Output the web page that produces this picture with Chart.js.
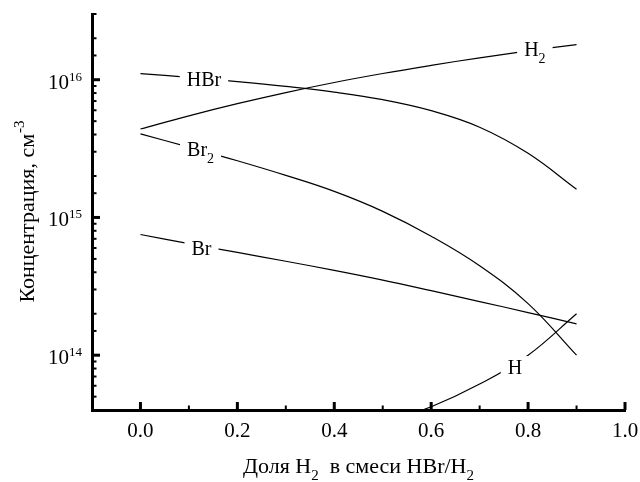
<!DOCTYPE html>
<html>
<head>
<meta charset="utf-8">
<script src="https://cdn.jsdelivr.net/npm/chart.js@4.4.0/dist/chart.umd.min.js"></script>
<style>
  html, body { margin: 0; padding: 0; background: #fff; }
  canvas { display: block; }
</style>
</head>
<body>
<canvas id="chart" width="640" height="482"></canvas>
<script>
// доля H2 в смеси HBr/H2
const xValues = [0, 0.1, 0.2, 0.3, 0.4, 0.5, 0.6, 0.7, 0.8, 0.9];

// концентрации, см^-3
const h2Values  = [4.39e15, 5.47e15, 6.70e15, 8.07e15, 9.55e15, 1.109e16, 1.27e16, 1.442e16, 1.618e16, 1.80e16];
const hbrValues = [1.107e16, 1.040e16, 9.70e15, 8.95e15, 8.13e15, 7.16e15, 5.96e15, 4.52e15, 2.92e15, 1.60e15];
const br2Values = [4.04e15, 3.24e15, 2.58e15, 2.02e15, 1.545e15, 1.107e15, 7.31e14, 4.46e14, 2.37e14, 1.00e14];
const brValues  = [7.52e14, 6.46e14, 5.57e14, 4.81e14, 4.13e14, 3.51e14, 2.94e14, 2.45e14, 2.04e14, 1.69e14];
const hValues   = [null, null, null, null, null, 3.2e13, 4.22e13, 6.17e13, 1.00e14, 2.00e14];

// подписи кривых: текст, индекс, место на графике (в единицах данных)
const curveLabels = [
  { text: 'HBr', sub: '',  x: 0.131, y: 1.02e16 },
  { text: 'Br',  sub: '2', x: 0.124, y: 3.16e15 },
  { text: 'Br',  sub: '',  x: 0.126, y: 6.04e14 },
  { text: 'H',   sub: '2', x: 0.814, y: 1.68e16 },
  { text: 'H',   sub: '',  x: 0.773, y: 8.2e13 }
];

const FONT = "'Liberation Serif', 'Times New Roman', serif";

function toPoints(values) {
  return xValues.map((x, i) => ({ x: x, y: values[i] }));
}

function lineSet(label, values) {
  return {
    label: label,
    data: toPoints(values),
    borderColor: '#000',
    borderWidth: 1.2,
    pointRadius: 0,
    tension: 0.4,
    fill: false
  };
}

function textWidth(ctx, main, small, mainSize, smallSize) {
  ctx.font = mainSize + 'px ' + FONT;
  let w = ctx.measureText(main).width;
  if (small) {
    ctx.font = smallSize + 'px ' + FONT;
    w += ctx.measureText(small).width;
  }
  return w;
}

const decor = {
  id: 'decor',
  afterDatasetsDraw(chart) {
    const ctx = chart.ctx;
    const xs = chart.scales.x, ys = chart.scales.y;
    ctx.save();
    ctx.textBaseline = 'alphabetic';
    ctx.textAlign = 'left';
    curveLabels.forEach(l => {
      const cx = xs.getPixelForValue(l.x);
      const cy = ys.getPixelForValue(l.y);
      const w = textWidth(ctx, l.text, l.sub, 20, 14);
      const left = cx - w / 2;
      ctx.fillStyle = '#fff';
      ctx.fillRect(left - 7, cy - 11, w + 14, 24);
      ctx.fillStyle = '#000';
      ctx.font = '20px ' + FONT;
      ctx.fillText(l.text, left, cy + 7);
      if (l.sub) {
        const mw = ctx.measureText(l.text).width;
        ctx.font = '14px ' + FONT;
        ctx.fillText(l.sub, left + mw, cy + 14);
      }
    });
    ctx.restore();
  },
  afterDraw(chart) {
    const ctx = chart.ctx;
    const xs = chart.scales.x, ys = chart.scales.y;
    const area = chart.chartArea;
    ctx.save();
    ctx.strokeStyle = '#000';
    ctx.fillStyle = '#000';

    // деления оси Y (внутрь)
    ys.ticks.forEach(t => {
      const py = ys.getPixelForValue(t.value);
      const exp = Math.log10(t.value);
      const major = Math.abs(exp - Math.round(exp)) < 1e-6;
      ctx.lineWidth = major ? 3 : 2;
      ctx.beginPath();
      ctx.moveTo(area.left, py);
      ctx.lineTo(area.left + (major ? 8 : 4.5), py);
      ctx.stroke();
      if (major) {
        const e = String(Math.round(exp));
        ctx.font = '21px ' + FONT;
        const wb = ctx.measureText('10').width;
        ctx.font = '13px ' + FONT;
        const we = ctx.measureText(e).width;
        const right = area.left - 10;
        ctx.textAlign = 'left';
        ctx.font = '21px ' + FONT;
        ctx.fillText('10', right - we - wb, py + 9);
        ctx.font = '13px ' + FONT;
        ctx.fillText(e, right - we, py + 1);
      }
    });

    // деления оси X (внутрь)
    xs.ticks.forEach(t => {
      const v = Math.round(t.value * 10);
      if (v < 0) return;
      const px = xs.getPixelForValue(t.value);
      const major = v % 2 === 0;
      ctx.lineWidth = major ? 3 : 2;
      ctx.beginPath();
      ctx.moveTo(px, area.bottom);
      ctx.lineTo(px, area.bottom - (major ? 8 : 4.5));
      ctx.stroke();
      if (major) {
        ctx.font = '21px ' + FONT;
        ctx.textAlign = 'center';
        ctx.fillText((v / 10).toFixed(1), px, area.bottom + 27);
      }
    });

    // подпись оси X
    ctx.textAlign = 'left';
    const parts = [['Доля H', 22, 0], ['2', 15, 7], ['  в смеси HBr/H', 22, 0], ['2', 15, 7]];
    let total = 0;
    parts.forEach(p => { ctx.font = p[1] + 'px ' + FONT; total += ctx.measureText(p[0]).width; });
    let x0 = (area.left + area.right) / 2 - total / 2;
    parts.forEach(p => {
      ctx.font = p[1] + 'px ' + FONT;
      ctx.fillText(p[0], x0, 473 + p[2]);
      x0 += ctx.measureText(p[0]).width;
    });

    // подпись оси Y
    ctx.translate(34, (area.top + area.bottom) / 2);
    ctx.rotate(-Math.PI / 2);
    const w = textWidth(ctx, 'Концентрация, см', '-3', 22, 15);
    ctx.font = '22px ' + FONT;
    ctx.fillText('Концентрация, см', -w / 2, 0);
    const mw = ctx.measureText('Концентрация, см').width;
    ctx.font = '15px ' + FONT;
    ctx.fillText('-3', -w / 2 + mw + 1, -10);
    ctx.restore();
  }
};

const chart = new Chart(document.getElementById('chart').getContext('2d'), {
  type: 'line',
  data: {
    datasets: [
      lineSet('H2', h2Values),
      lineSet('HBr', hbrValues),
      lineSet('Br2', br2Values),
      lineSet('Br', brValues),
      lineSet('H', hValues)
    ]
  },
  options: {
    responsive: false,
    animation: false,
    layout: { padding: { left: 92, right: 15, top: 14, bottom: 72 } },
    plugins: { legend: { display: false }, tooltip: { enabled: false } },
    scales: {
      x: {
        type: 'linear',
        min: -0.1,
        max: 1.0,
        ticks: { display: false, stepSize: 0.1 },
        grid: { display: false, drawTicks: false },
        border: { display: true, color: '#000', width: 3 },
        afterFit: s => { s.height = 0; }
      },
      y: {
        type: 'logarithmic',
        min: 4e13,
        max: 3e16,
        ticks: { display: false },
        grid: { display: false, drawTicks: false },
        border: { display: true, color: '#000', width: 3 },
        afterFit: s => { s.width = 0; }
      }
    }
  },
  plugins: [decor]
});
</script>
</body>
</html>
